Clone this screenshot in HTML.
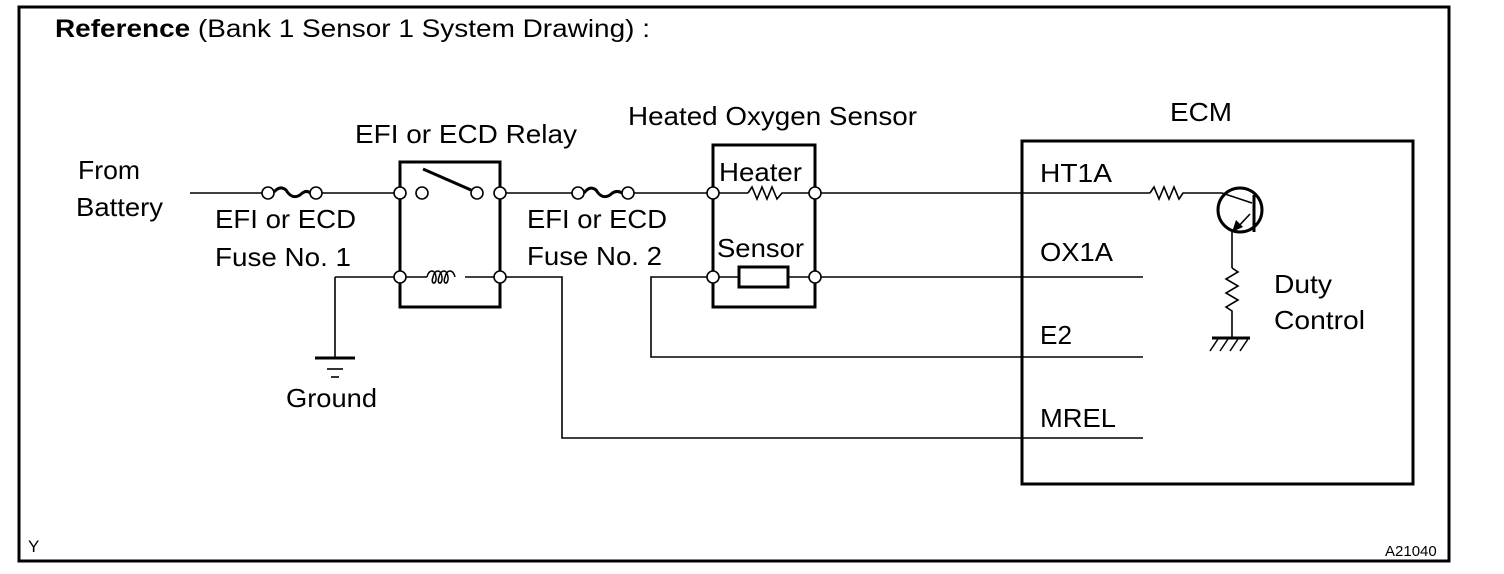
<!DOCTYPE html>
<html><head><meta charset="utf-8"><style>
html,body{margin:0;padding:0;background:#fff}
svg{display:block}
text{font-family:"Liberation Sans",Arial,sans-serif;fill:#000}
</style></head><body>
<svg width="1504" height="574" viewBox="0 0 1504 574" xmlns="http://www.w3.org/2000/svg">
<rect x="19" y="7" width="1430" height="554" fill="none" stroke="#000" stroke-width="3"/>
<text x="55" y="37" font-size="25" textLength="595" lengthAdjust="spacingAndGlyphs"><tspan font-weight="bold">Reference</tspan> (Bank 1 Sensor 1 System Drawing) :</text>
<g font-size="26" lengthAdjust="spacingAndGlyphs">
<text x="78" y="179" textLength="62" lengthAdjust="spacingAndGlyphs">From</text>
<text x="76" y="216" textLength="87" lengthAdjust="spacingAndGlyphs">Battery</text>
<text x="215" y="228" textLength="141" lengthAdjust="spacingAndGlyphs">EFI or ECD</text>
<text x="215" y="266" textLength="136" lengthAdjust="spacingAndGlyphs">Fuse No. 1</text>
<text x="355" y="143" textLength="222" lengthAdjust="spacingAndGlyphs">EFI or ECD Relay</text>
<text x="527" y="228" textLength="140" lengthAdjust="spacingAndGlyphs">EFI or ECD</text>
<text x="527" y="265" textLength="135" lengthAdjust="spacingAndGlyphs">Fuse No. 2</text>
<text x="628" y="125" textLength="289" lengthAdjust="spacingAndGlyphs">Heated Oxygen Sensor</text>
<text x="719" y="181" textLength="83" lengthAdjust="spacingAndGlyphs">Heater</text>
<text x="717" y="257" textLength="87" lengthAdjust="spacingAndGlyphs">Sensor</text>
<text x="286" y="407" textLength="91" lengthAdjust="spacingAndGlyphs">Ground</text>
<text x="1170" y="121" textLength="62" lengthAdjust="spacingAndGlyphs">ECM</text>
<text x="1040" y="182" textLength="72" lengthAdjust="spacingAndGlyphs">HT1A</text>
<text x="1040" y="261" textLength="73" lengthAdjust="spacingAndGlyphs">OX1A</text>
<text x="1040" y="344" textLength="32" lengthAdjust="spacingAndGlyphs">E2</text>
<text x="1040" y="427" textLength="76" lengthAdjust="spacingAndGlyphs">MREL</text>
<text x="1274" y="293" textLength="58" lengthAdjust="spacingAndGlyphs">Duty</text>
<text x="1274" y="329" textLength="91" lengthAdjust="spacingAndGlyphs">Control</text>
</g>
<text x="28" y="552" font-size="17">Y</text>
<text x="1385" y="556" font-size="15">A21040</text>
<g fill="none" stroke="#000" stroke-width="1.6">
<line x1="190" y1="193" x2="262" y2="193"/>
<line x1="322" y1="193" x2="394" y2="193"/>
<line x1="506" y1="193" x2="572" y2="193"/>
<line x1="634" y1="193" x2="707" y2="193"/>
<line x1="719" y1="193" x2="748" y2="193"/>
<polyline points="748,193 752,187 757,199 762,187 767,199 772,187 777,199 782,193 809,193"/>
<line x1="821" y1="193" x2="1150" y2="193"/>
<polyline points="1150,193 1154,187 1159,199 1164,187 1169,199 1174,187 1179,199 1183,193 1222,193 1252,203"/>
<line x1="335" y1="277" x2="394" y2="277"/>
<line x1="335" y1="277" x2="335" y2="358"/>
<line x1="406" y1="277" x2="427" y2="277"/>
<line x1="465" y1="277" x2="494" y2="277"/>
<polyline points="506,277 562,277 562,438 1143,438"/>
<polyline points="707,277 651,277 651,357 1143,357"/>
<line x1="719" y1="277" x2="739" y2="277"/>
<line x1="788" y1="277" x2="809" y2="277"/>
<line x1="821" y1="277" x2="1143" y2="277"/>
<line x1="327" y1="369" x2="343" y2="369"/>
<line x1="331" y1="377" x2="339" y2="377"/>
<line x1="1232" y1="232" x2="1232" y2="268"/>
<polyline points="1232,268 1238,272 1226,279 1238,286 1226,293 1238,300 1226,307 1232,311 1232,337"/>
<line x1="1250" y1="214" x2="1236" y2="229"/>
</g>
<g fill="none" stroke="#000" stroke-width="3">
<rect x="400" y="162" width="100" height="145"/>
<rect x="713" y="145" width="102" height="162"/>
<rect x="739" y="267" width="49" height="20"/>
<rect x="1022" y="141" width="391" height="343"/>
<path d="M274,192 Q280,185 286,190 Q292,200 300,195 Q306,189 310,193"/>
<path d="M584,193 Q590,185 596,190 Q602,200 610,195 Q616,189 622,193"/>
<line x1="423" y1="169" x2="471" y2="190"/>
<line x1="315" y1="358" x2="355" y2="358"/>
<circle cx="1240" cy="210" r="22"/>
<line x1="1254" y1="195" x2="1254" y2="232"/>
<line x1="1212" y1="338" x2="1250" y2="338"/>
</g>
<path d="M427,277 c2,-8 8,-8 9,0 c1,8 -6,8 -3,0 c2,-8 8,-8 9,0 c1,8 -6,8 -3,0 c2,-8 8,-8 9,0 c1,8 -6,8 -3,0 c2,-8 8,-8 10,0" fill="none" stroke="#000" stroke-width="1.5"/>
<polygon points="1232,232 1236,220 1243,227" fill="#000"/>
<g stroke="#000" stroke-width="1.5">
<line x1="1218" y1="339" x2="1210" y2="351"/>
<line x1="1228" y1="339" x2="1220" y2="351"/>
<line x1="1238" y1="339" x2="1230" y2="351"/>
<line x1="1248" y1="339" x2="1240" y2="351"/>
</g>
<g fill="#fff" stroke="#000" stroke-width="1.6">
<circle cx="268" cy="193" r="6"/><circle cx="316" cy="193" r="6"/>
<circle cx="400" cy="193" r="6"/><circle cx="422" cy="193" r="6"/>
<circle cx="477" cy="193" r="6"/><circle cx="500" cy="193" r="6"/>
<circle cx="400" cy="277" r="6"/><circle cx="500" cy="277" r="6"/>
<circle cx="578" cy="193" r="6"/><circle cx="628" cy="193" r="6"/>
<circle cx="713" cy="193" r="6"/><circle cx="815" cy="193" r="6"/>
<circle cx="713" cy="277" r="6"/><circle cx="815" cy="277" r="6"/>
</g>
</svg>
</body></html>
